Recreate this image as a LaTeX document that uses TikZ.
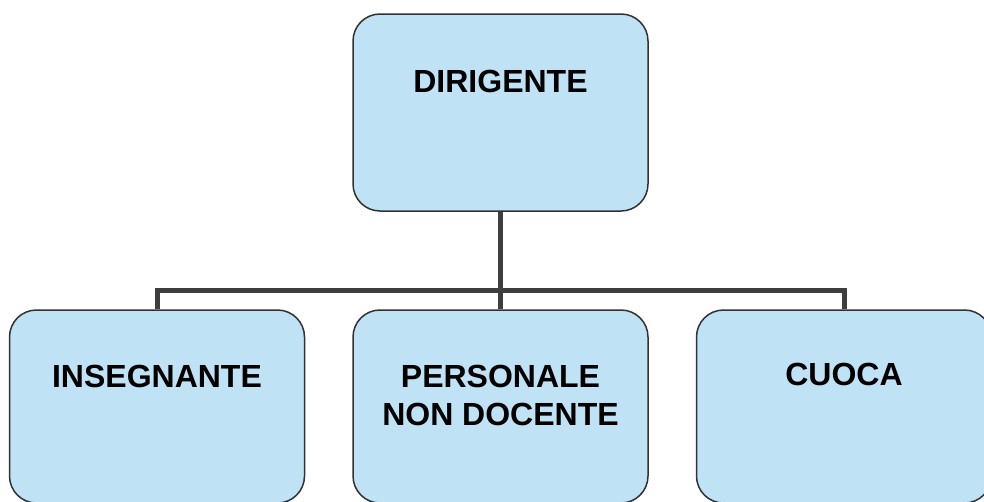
\documentclass[tikz,border=0pt]{standalone}
\usepackage{fontspec}
\setmainfont{Liberation Sans}
\usepackage{tikz}
\usetikzlibrary{calc}
\definecolor{boxblue}{RGB}{191,226,244}
\definecolor{edgegray}{RGB}{50,50,50}
\definecolor{conngray}{RGB}{62,62,62}
\tikzset{
	box/.style={draw=edgegray, line width=1.5pt, fill=boxblue, rounded corners=27pt,
		minimum width=295pt, inner sep=0pt},
	lbl/.style={font=\bfseries\fontsize{32}{38}\selectfont, align=center, inner sep=0pt},
	conn/.style={draw=conngray, line width=5pt, line join=miter}
}

\begin{document}
\begin{tikzpicture}[x=1pt,y=-1pt]
				\useasboundingbox (0,0) rectangle (984,501);
				
				% Boxes
				\node[box, minimum height=197pt] (dir) at (500.5,112.5) {};
				\node[box, minimum height=193pt] (ins) at (157,406.5) {};
				\node[box, minimum height=193pt] (per) at (500.5,406.5) {};
				\node[box, minimum height=193pt] (cuo) at (844,406.5) {};
				
				% Bus level
				\coordinate (bus) at (0,290);
				
				% Connectors
				\draw[conn] (dir.south) -- (per.north);
				\draw[conn] (ins.north) -- (ins.north |- bus) -- (cuo.north |- bus) -- (cuo.north);
				
				% Labels
				\node[lbl] (dirt) at ([yshift=-68pt]dir.north) {DIRIGENTE};
				\node[lbl] (inst) at ([yshift=-67pt]ins.north) {INSEGNANTE};
				\node[lbl] (pert) at ([yshift=-86pt]per.north) {PERSONALE\\NON DOCENTE};
				\node[lbl] (cuot) at ([yshift=-65pt]cuo.north) {CUOCA};
			\end{tikzpicture}
\end{document}
